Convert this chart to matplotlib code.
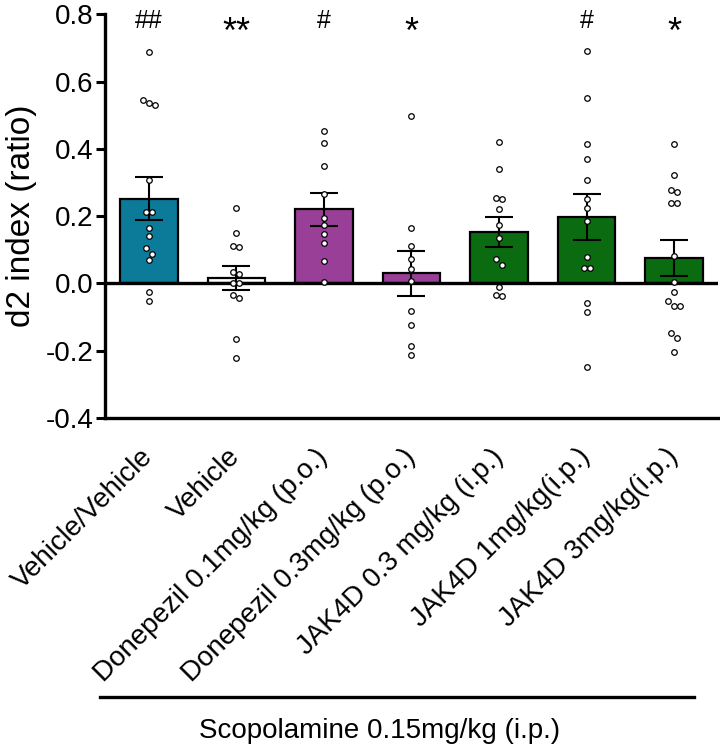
import matplotlib.pyplot as plt
from matplotlib.lines import Line2D

plt.rcParams['font.family'] = ['Liberation Sans', 'DejaVu Sans']

# groups and values
groups = ['Vehicle/Vehicle', 'Vehicle', 'Donepezil 0.1mg/kg (p.o.)',
          'Donepezil 0.3mg/kg (p.o.)', 'JAK4D 0.3 mg/kg (i.p.)',
          'JAK4D 1mg/kg(i.p.)', 'JAK4D 3mg/kg(i.p.)']
means = [0.252, 0.017, 0.220, 0.030, 0.153, 0.198, 0.076]
sems = [0.063, 0.036, 0.048, 0.066, 0.044, 0.069, 0.053]
signif = ['##', '**', '#', '*', '', '#', '*']
colors = ['#0C7A99', '#FFFFFF', '#9A3F97', '#9A3F97', '#0B6B10', '#0B6B10', '#0B6B10']

pts_vehveh = [0.687, 0.546, 0.535, 0.530, 0.307, 0.212, 0.211, 0.166, 0.140,
              0.104, 0.089, 0.069, -0.024, -0.053]
pts_veh = [0.223, 0.149, 0.112, 0.108, 0.034, 0.028, 0.002, 0.000, -0.033,
           -0.042, -0.164, -0.221]
pts_don01 = [0.454, 0.416, 0.348, 0.265, 0.195, 0.174, 0.148, 0.121, 0.067, 0.004]
pts_don03 = [0.498, 0.166, 0.111, 0.074, 0.042, 0.008, -0.082, -0.124, -0.187, -0.213]
pts_jak03 = [0.419, 0.339, 0.255, 0.251, 0.220, 0.173, 0.135, 0.074, 0.056,
             -0.009, -0.035, -0.037]
pts_jak1 = [0.690, 0.551, 0.413, 0.369, 0.307, 0.250, 0.223, 0.187, 0.078,
            0.045, 0.045, -0.058, -0.084, -0.247]
pts_jak3 = [0.415, 0.323, 0.279, 0.271, 0.240, 0.240, 0.082, 0.005, -0.025,
            -0.053, -0.067, -0.067, -0.148, -0.161, -0.203]
points = [pts_vehveh, pts_veh, pts_don01, pts_don03, pts_jak03, pts_jak1, pts_jak3]


def swarm(vals, center, step=0.069, tol=0.02):
    # put points that would overlap side by side
    vals = sorted(vals, reverse=True)
    rows = []
    for v in vals:
        if rows and abs(rows[-1][0] - v) < tol:
            rows[-1].append(v)
        else:
            rows.append([v])
    xs, ys = [], []
    for row in rows:
        n = len(row)
        for k, v in enumerate(row):
            xs.append(center + (k - (n - 1) / 2) * step)
            ys.append(v)
    return xs, ys


fig = plt.figure(figsize=(7.2, 7.48), dpi=100)
ax = fig.add_axes([0.146, 0.441, 0.851, 0.540])

x = list(range(len(groups)))
ax.bar(x, means, width=0.66, color=colors, edgecolor='black', linewidth=1.6, zorder=2)
ax.axhline(0, color='black', lw=2.4, zorder=3)
ax.errorbar(x, means, yerr=sems, fmt='none', ecolor='black', elinewidth=1.5,
            capsize=10, capthick=1.5, zorder=4)
for i, vals in enumerate(points):
    px, py = swarm(vals, i)
    ax.plot(px, py, 'o', ms=4, mfc='white', mec='black', mew=0.9, ls='none', zorder=5)

for i, s in enumerate(signif):
    if s.startswith('*'):
        ax.text(i, 0.714, s, ha='center', va='baseline', fontsize=26)
    elif s:
        ax.text(i, 0.758, s, ha='center', va='baseline', fontsize=18)

ax.set_xlim(-0.5, 6.5)
ax.set_ylim(-0.4, 0.8)
ax.set_yticks([-0.4, -0.2, 0.0, 0.2, 0.4, 0.6, 0.8])
ax.set_yticklabels(['-0.4', '-0.2', '0.0', '0.2', '0.4', '0.6', '0.8'])
ax.set_ylabel('d2 index (ratio)', fontsize=24, labelpad=6)
ax.set_xticks(x)
ax.set_xticklabels(groups, rotation=45, ha='right', va='center',
                   rotation_mode='anchor', fontsize=20)
ax.tick_params(axis='x', length=0, pad=25)
ax.tick_params(axis='y', labelsize=20, width=2.2, length=6.5, pad=2)

for side in ['top', 'right']:
    ax.spines[side].set_visible(False)
for side in ['left', 'bottom']:
    ax.spines[side].set_linewidth(2.4)

# bracket for the scopolamine groups
fig.add_artist(Line2D([100 / 720, 694 / 720], [1 - 697 / 748, 1 - 697 / 748],
                      color='black', lw=2.4))
fig.text(380 / 720, 1 - 731 / 748, 'Scopolamine 0.15mg/kg (i.p.)',
         ha='center', va='center', fontsize=20)

fig.savefig('out.png', dpi=100)
